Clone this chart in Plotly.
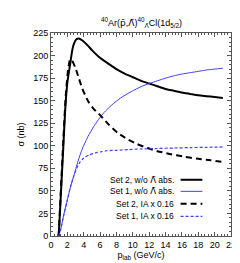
import plotly.graph_objects as go

# Set 2, w/o anti-Lambda absorption (black solid)
s2_x = [0.94, 1.2, 1.5, 1.75, 2.0, 2.3, 2.6, 2.8, 3.1, 3.4, 3.8, 4.5, 5.0, 5.8, 7.0, 8.0, 9.0, 10.0, 11.0, 12.0, 13.0, 14.0, 15.0, 16.0, 17.0, 18.0, 19.0, 20.0, 21.0]
s2_y = [0, 45, 98, 142, 170, 188, 206, 213, 218, 219, 217, 211, 206, 199, 191, 185, 180, 176, 172, 169, 166, 163, 161, 159, 157.5, 156, 155, 154, 153]

# Set 1, w/o anti-Lambda absorption (blue solid)
s1_x = [0.94, 1.2, 1.6, 2.0, 2.4, 2.8, 3.3, 3.8, 4.5, 5.2, 5.8, 6.5, 7.4, 8.5, 9.8, 11.0, 12.0, 13.0, 14.0, 15.0, 16.0, 17.0, 18.0, 19.0, 20.0, 21.0]
s1_y = [0, 8, 25, 40, 55, 67, 83, 96, 110, 121, 129, 137, 145, 153, 160, 165.5, 169, 172, 175, 177.5, 179.5, 181, 182.5, 184, 185, 186]

# Set 2, IA x 0.16 (black dashed)
s2ia_x = [0.94, 1.2, 1.5, 1.8, 2.1, 2.35, 2.6, 3.0, 3.4, 3.8, 4.5, 5.2, 5.8, 7.0, 8.2, 9.4, 10.5, 11.8, 13.0, 14.5, 16.2, 18.0, 19.5, 21.0]
s2ia_y = [0, 50, 105, 155, 185, 196, 194, 186, 175, 164, 150, 141, 136, 124, 114, 107, 102, 97.5, 94, 91, 88, 85.5, 84, 82]

# Set 1, IA x 0.16 (blue dashed)
s1ia_x = [0.94, 1.2, 1.6, 2.0, 2.4, 2.8, 3.4, 4.0, 4.7, 5.4, 6.2, 6.8, 8.0, 9.4, 11.0, 13.0, 15.0, 17.0, 19.0, 21.0]
s1ia_y = [0, 8, 25, 40, 55, 67, 80, 86.5, 90, 92, 93.5, 94.5, 95, 95.7, 96.5, 97, 97.5, 98, 98.3, 98.7]

LBAR = '<span style="font-family:DejaVu Sans">\u039b\u0304</span>'
PBAR = '<span style="font-family:DejaVu Sans">p\u0304</span>'
legend_labels = ["Set 2, w/o " + LBAR + " abs.", "Set 1, w/o " + LBAR + " abs.", "Set 2, IA x 0.16", "Set 1, IA x 0.16"]

BLUE = "#3f3fff"
styles = [
    dict(color="black", width=2, dash="solid"),
    dict(color=BLUE, width=1, dash="solid"),
    dict(color="black", width=2, dash="6px,4px"),
    dict(color=BLUE, width=1.2, dash="3px,2px"),
]
series = [(s2_x, s2_y), (s1_x, s1_y), (s2ia_x, s2ia_y), (s1ia_x, s1ia_y)]

fig = go.Figure()
for (xs, ys), st, name in zip(series, styles, legend_labels):
    fig.add_trace(go.Scatter(x=xs, y=ys, mode="lines", line=dict(shape="spline", smoothing=0.6, **st),
                             name=name, showlegend=False))

FONT = "Liberation Sans, Arial, sans-serif"
rows_y = [0.277, 0.220, 0.159, 0.097]
for name, st, yy in zip(legend_labels, styles, rows_y):
    fig.add_annotation(x=0.695, y=yy, xref="paper", yref="paper", text=name, showarrow=False,
                       xanchor="right", yanchor="middle", font=dict(size=8.5, color="black", family=FONT))
    fig.add_shape(type="line", xref="paper", yref="paper", x0=0.72, x1=0.841, y0=yy, y1=yy,
                  line=st)

fig.add_annotation(x=0.5, y=1.054, xref="paper", yref="paper", showarrow=False,
                   text="<sup>40</sup>Ar(" + PBAR + "," + LBAR + ")<sup>40</sup><sub>" + LBAR + "</sub>Cl(1d<sub>5/2</sub>)",
                   font=dict(size=9, color="black", family=FONT), yanchor="middle")

axis_common = dict(showline=True, linecolor="#555555", linewidth=1, mirror="ticks", ticks="inside",
                   ticklen=4, tickcolor="#555555", showgrid=False, zeroline=False,
                   tickfont=dict(size=9, color="black", family=FONT))
fig.update_xaxes(range=[0, 22], dtick=2, tick0=0,
                 minor=dict(dtick=0.4, ticks="inside", ticklen=2, tickcolor="#555555"),
                 title=dict(text="p<sub>lab</sub> (GeV/c)", font=dict(size=9, family=FONT, color="black"), standoff=0),
                 **axis_common)
fig.update_yaxes(range=[0, 225], dtick=25, tick0=0,
                 minor=dict(dtick=5, ticks="inside", ticklen=2, tickcolor="#555555"),
                 title=dict(text="\u03c3 (nb)", font=dict(size=9, family=FONT, color="black"), standoff=7),
                 **axis_common)

fig.update_layout(width=240, height=263, margin=dict(l=41.5, r=16, t=25, b=35),
                  plot_bgcolor="white", paper_bgcolor="white", showlegend=False)

fig.write_html("out.html")
